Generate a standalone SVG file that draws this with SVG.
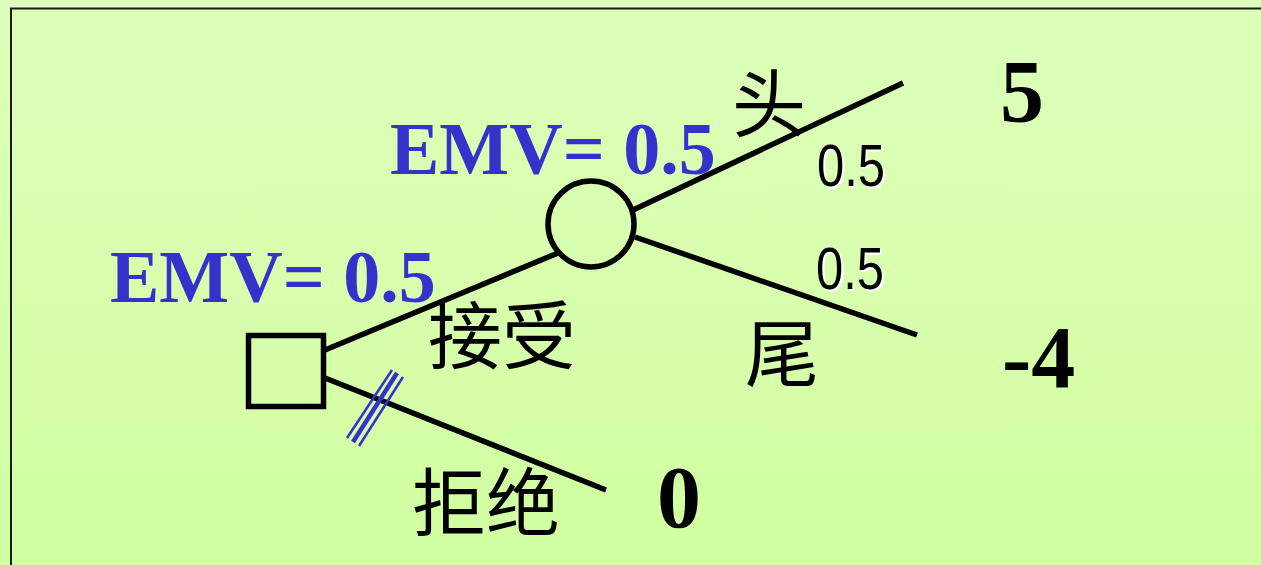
<svg xmlns="http://www.w3.org/2000/svg" width="1261" height="565" viewBox="0 0 1261 565">
  <defs>
    <linearGradient id="bg" x1="0" y1="0" x2="0" y2="1">
      <stop offset="0" stop-color="#ddffbb"/>
      <stop offset="1" stop-color="#d1ffa0"/>
    </linearGradient>
  </defs>
  <style>
    .edge { stroke: #000; stroke-width: 5.5; fill: none; stroke-linecap: butt; }
    .node { stroke: #000; stroke-width: 5.5; fill: none; }
    .emv { font-family: "Liberation Serif", "Times New Roman", serif; font-weight: bold; font-size: 74px; fill: #3333cc; }
    .pay { font-family: "Liberation Serif", "Times New Roman", serif; font-weight: bold; font-size: 88px; fill: #000; }
    .cjk { font-family: "Noto Sans CJK SC", sans-serif; font-size: 74px; fill: #000; }
    .prob { font-family: "Liberation Sans", Arial, sans-serif; font-size: 59px; }
    .cut { stroke: #3333cc; fill: none; }
  </style>
  <rect x="0" y="0" width="1261" height="565" fill="url(#bg)"/>
  <path d="M11 565 V8.5 H1261" stroke="#1a1a1a" stroke-width="2" fill="none"/>

  <g id="connectors">
    <line class="edge" x1="325" y1="350" x2="558" y2="253"/>
    <line class="edge" x1="325" y1="378" x2="606" y2="490"/>
    <line class="edge" x1="633" y1="210" x2="903" y2="83"/>
    <line class="edge" x1="635" y1="237" x2="917" y2="335"/>
    <g id="cut-mark">
      <line class="cut" stroke-width="2.5" x1="347" y1="438" x2="392" y2="370"/>
      <line class="cut" stroke-width="4.5" x1="353" y1="442" x2="397" y2="373"/>
      <line class="cut" stroke-width="2.5" x1="359" y1="446" x2="403" y2="377"/>
    </g>
  </g>

  <g id="decision-node">
    <rect class="node" x="248.5" y="335.5" width="75" height="71"/>
  </g>
  <g id="chance-node">
    <circle class="node" cx="591" cy="224" r="43"/>
  </g>

  <g id="labels">
    <text class="emv" x="390" y="174">EMV= 0.5</text>
    <text class="emv" x="110" y="302">EMV= 0.5</text>

    <text class="cjk" x="732" y="131">头</text>
    <text class="cjk" x="428" y="363">接受</text>
    <text class="cjk" x="745" y="381">尾</text>
    <text class="cjk" x="412" y="530">拒绝</text>

    <g id="prob-up">
      <text class="prob" x="819" y="188" fill="#fff" textLength="68" lengthAdjust="spacingAndGlyphs">0.5</text>
      <text class="prob" x="817" y="186" fill="#000" textLength="68" lengthAdjust="spacingAndGlyphs">0.5</text>
    </g>
    <g id="prob-down">
      <text class="prob" x="818" y="291" fill="#fff" textLength="68" lengthAdjust="spacingAndGlyphs">0.5</text>
      <text class="prob" x="816" y="289" fill="#000" textLength="68" lengthAdjust="spacingAndGlyphs">0.5</text>
    </g>

    <text class="pay" x="1000" y="121">5</text>
    <text class="pay" x="1002" y="387">-4</text>
    <text class="pay" x="657" y="527">0</text>
  </g>
</svg>
